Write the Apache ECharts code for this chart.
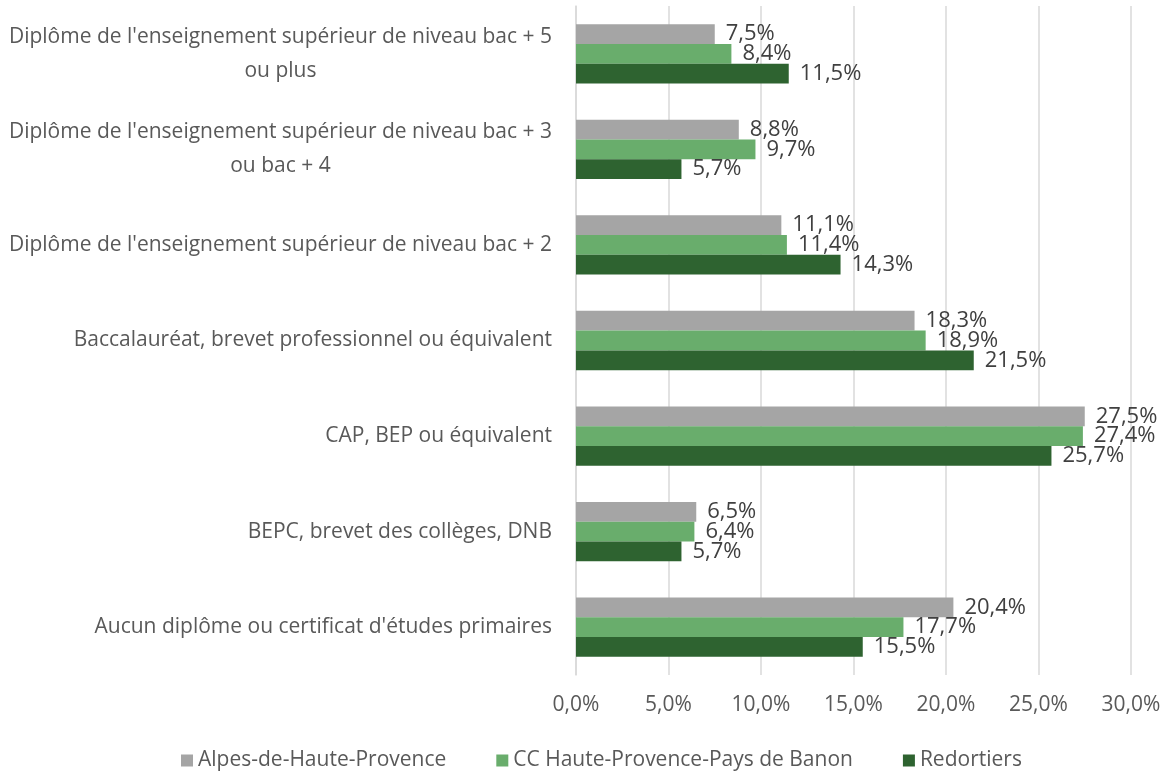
<!DOCTYPE html>
<html><head><meta charset="utf-8">
<script src="https://cdn.jsdelivr.net/npm/echarts@6/dist/echarts.min.js"></script>
<style>html,body{margin:0;padding:0;background:#fff}#c{width:1169px;height:774px}</style>
</head><body><div id="c"></div>
<script>
const categories = [
  "Diplôme de l'enseignement supérieur de niveau bac + 5\nou plus",
  "Diplôme de l'enseignement supérieur de niveau bac + 3\nou bac + 4",
  "Diplôme de l'enseignement supérieur de niveau bac + 2",
  "Baccalauréat, brevet professionnel ou équivalent",
  "CAP, BEP ou équivalent",
  "BEPC, brevet des collèges, DNB",
  "Aucun diplôme ou certificat d'études primaires"
];
const seriesNames = ["Alpes-de-Haute-Provence", "CC Haute-Provence-Pays de Banon", "Redortiers"];
const alpes = [7.5, 8.8, 11.1, 18.3, 27.5, 6.5, 20.4];
const ccBanon = [8.4, 9.7, 11.4, 18.9, 27.4, 6.4, 17.7];
const redortiers = [11.5, 5.7, 14.3, 21.5, 25.7, 5.7, 15.5];
const xTicks = [0, 5, 10, 15, 20, 25, 30];

const colors = ['#A5A5A5', '#69AD6C', '#2E6330'];
const FONT = 'Open Sans';
const fmt = v => v.toFixed(1).replace('.', ',') + '%';
function mkSeries(name, data, color) {
  return {
    name, type: 'bar', data, barGap: '0%', barCategoryGap: '38%',
    itemStyle: { color },
    label: { show: true, position: 'right', distance: 11, color: '#404040', fontFamily: FONT, fontSize: 22,
      formatter: p => fmt(p.value) }
  };
}
const chart = echarts.init(document.getElementById('c'));
chart.setOption({
  animation: false,
  textStyle: { fontFamily: FONT },
  grid: { left: 576, right: 38, top: 6, bottom: 99 },
  legend: {
    top: 745, left: 176, itemWidth: 12, itemHeight: 12, itemGap: 50, icon: 'rect',
    textStyle: { fontSize: 21, color: '#595959', fontFamily: FONT }
  },
  xAxis: {
    type: 'value', min: xTicks[0], max: xTicks[xTicks.length - 1], interval: 5,
    axisLine: { show: false }, axisTick: { show: false },
    splitLine: { lineStyle: { color: '#D9D9D9', width: 1.5 } },
    axisLabel: { color: '#595959', fontSize: 21, fontFamily: FONT, margin: 20, formatter: v => fmt(v) }
  },
  yAxis: {
    type: 'category', data: categories, inverse: true,
    axisLine: { show: true, lineStyle: { color: '#D9D9D9', width: 1.5 } }, axisTick: { show: false },
    axisLabel: {
      color: '#595959', fontSize: 21, fontFamily: FONT, margin: 24, lineHeight: 34,
      formatter: v => v.split('\n').map(s => '{c|' + s + '}').join('\n'),
      rich: { c: { align: 'center', fontSize: 21, fontFamily: FONT, color: '#595959', lineHeight: 34 } }
    }
  },
  series: [
    mkSeries(seriesNames[0], alpes, colors[0]),
    mkSeries(seriesNames[1], ccBanon, colors[1]),
    mkSeries(seriesNames[2], redortiers, colors[2])
  ]
});
</script></body></html>
